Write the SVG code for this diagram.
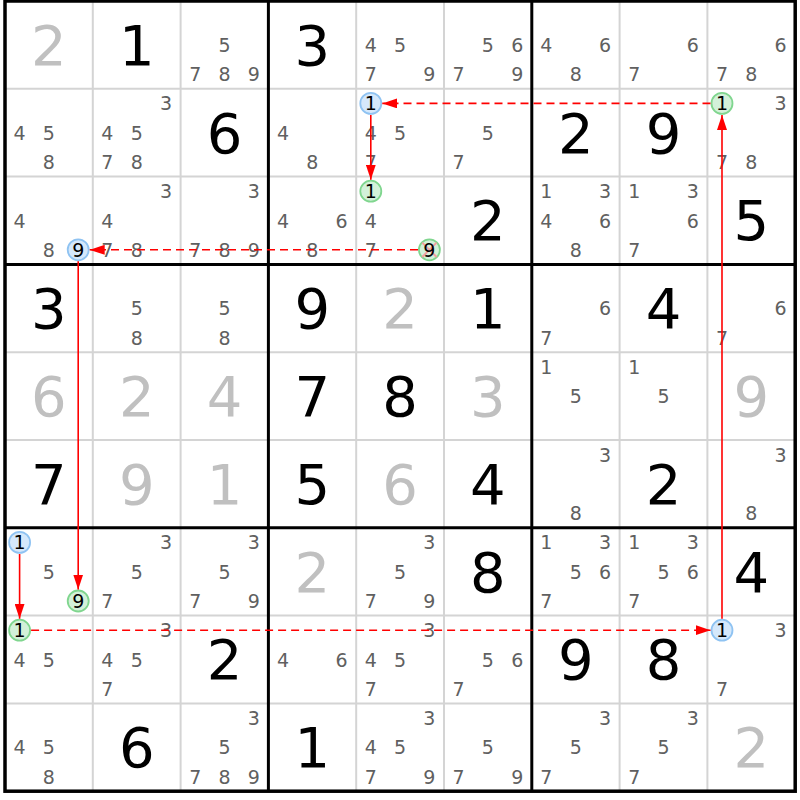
<svg xmlns="http://www.w3.org/2000/svg" width="800" height="800" viewBox="0 0 800 800">
<style>
text { font-family: "DejaVu Sans", Verdana, sans-serif; text-anchor: middle; }
.c { font-size: 19px; fill: #606060; }
.k { font-size: 19px; fill: #000000; }
.g { font-size: 56px; fill: #000000; }
.v { font-size: 56px; fill: #c0c0c0; }
.thin { stroke: #d4d4d4; stroke-width: 2; }
.thick { stroke: #000000; stroke-width: 3; }
.hb { fill: #d5e8fb; stroke: #8fc3f2; stroke-width: 1.8; }
.hg { fill: #d3f1d9; stroke: #80d68f; stroke-width: 1.8; }
.x { stroke: #f2a0a0; stroke-width: 2; }
.lk { stroke: #ff0000; stroke-width: 1.6; fill: none; marker-end: url(#ah); }
.dash { stroke-dasharray: 8 5; }
</style>
<defs>
<marker id="ah" markerWidth="15" markerHeight="10" refX="15" refY="5" orient="auto" markerUnits="userSpaceOnUse">
<path d="M0,0 L15,5 L0,10 z" fill="#ff0000"/>
</marker>
</defs>
<rect x="0" y="0" width="800" height="800" fill="#ffffff"/>
<g id="grid">
<line class="thin" x1="92.8" y1="1" x2="92.8" y2="791.2"/>
<line class="thin" x1="180.6" y1="1" x2="180.6" y2="791.2"/>
<line class="thin" x1="356.2" y1="1" x2="356.2" y2="791.2"/>
<line class="thin" x1="444" y1="1" x2="444" y2="791.2"/>
<line class="thin" x1="619.6" y1="1" x2="619.6" y2="791.2"/>
<line class="thin" x1="707.4" y1="1" x2="707.4" y2="791.2"/>
<line class="thin" x1="5" y1="88.8" x2="795.2" y2="88.8"/>
<line class="thin" x1="5" y1="176.6" x2="795.2" y2="176.6"/>
<line class="thin" x1="5" y1="352.2" x2="795.2" y2="352.2"/>
<line class="thin" x1="5" y1="440" x2="795.2" y2="440"/>
<line class="thin" x1="5" y1="615.6" x2="795.2" y2="615.6"/>
<line class="thin" x1="5" y1="703.4" x2="795.2" y2="703.4"/>
<line class="thick" x1="268.4" y1="1" x2="268.4" y2="791.2"/>
<line class="thick" x1="531.8" y1="1" x2="531.8" y2="791.2"/>
<line class="thick" x1="5" y1="264.4" x2="795.2" y2="264.4"/>
<line class="thick" x1="5" y1="527.8" x2="795.2" y2="527.8"/>
<rect x="5" y="1" width="790.2" height="790.2" fill="none" stroke="#000000" stroke-width="3.5"/>
</g>

<!-- Row 1 -->
<g id="r1c1" transform="translate(5,1)"><text class="v" x="43.9" y="63.9">2</text></g>
<g id="r1c2" transform="translate(92.8,1)"><text class="g" x="43.9" y="63.9">1</text></g>
<g id="r1c3" transform="translate(180.6,1)"><text class="c" x="43.9" y="51">5</text><text class="c" x="14.6" y="80.3">7</text><text class="c" x="43.9" y="80.3">8</text><text class="c" x="73.2" y="80.3">9</text></g>
<g id="r1c4" transform="translate(268.4,1)"><text class="g" x="43.9" y="63.9">3</text></g>
<g id="r1c5" transform="translate(356.2,1)"><text class="c" x="14.6" y="51">4</text><text class="c" x="43.9" y="51">5</text><text class="c" x="14.6" y="80.3">7</text><text class="c" x="73.2" y="80.3">9</text></g>
<g id="r1c6" transform="translate(444,1)"><text class="c" x="43.9" y="51">5</text><text class="c" x="73.2" y="51">6</text><text class="c" x="14.6" y="80.3">7</text><text class="c" x="73.2" y="80.3">9</text></g>
<g id="r1c7" transform="translate(531.8,1)"><text class="c" x="14.6" y="51">4</text><text class="c" x="73.2" y="51">6</text><text class="c" x="43.9" y="80.3">8</text></g>
<g id="r1c8" transform="translate(619.6,1)"><text class="c" x="73.2" y="51">6</text><text class="c" x="14.6" y="80.3">7</text></g>
<g id="r1c9" transform="translate(707.4,1)"><text class="c" x="73.2" y="51">6</text><text class="c" x="14.6" y="80.3">7</text><text class="c" x="43.9" y="80.3">8</text></g>

<!-- Row 2 -->
<g id="r2c1" transform="translate(5,88.8)"><text class="c" x="14.6" y="51">4</text><text class="c" x="43.9" y="51">5</text><text class="c" x="43.9" y="80.3">8</text></g>
<g id="r2c2" transform="translate(92.8,88.8)"><text class="c" x="73.2" y="21.7">3</text><text class="c" x="14.6" y="51">4</text><text class="c" x="43.9" y="51">5</text><text class="c" x="14.6" y="80.3">7</text><text class="c" x="43.9" y="80.3">8</text></g>
<g id="r2c3" transform="translate(180.6,88.8)"><text class="g" x="43.9" y="63.9">6</text></g>
<g id="r2c4" transform="translate(268.4,88.8)"><text class="c" x="14.6" y="51">4</text><text class="c" x="43.9" y="80.3">8</text></g>
<g id="r2c5" transform="translate(356.2,88.8)"><circle class="hb" cx="14.6" cy="14.6" r="10.5"/><text class="k" x="14.6" y="21.7">1</text><text class="c" x="14.6" y="51">4</text><text class="c" x="43.9" y="51">5</text><text class="c" x="14.6" y="80.3">7</text></g>
<g id="r2c6" transform="translate(444,88.8)"><text class="c" x="43.9" y="51">5</text><text class="c" x="14.6" y="80.3">7</text></g>
<g id="r2c7" transform="translate(531.8,88.8)"><text class="g" x="43.9" y="63.9">2</text></g>
<g id="r2c8" transform="translate(619.6,88.8)"><text class="g" x="43.9" y="63.9">9</text></g>
<g id="r2c9" transform="translate(707.4,88.8)"><circle class="hg" cx="14.6" cy="14.6" r="10.5"/><text class="k" x="14.6" y="21.7">1</text><text class="c" x="73.2" y="21.7">3</text><text class="c" x="14.6" y="80.3">7</text><text class="c" x="43.9" y="80.3">8</text></g>

<!-- Row 3 -->
<g id="r3c1" transform="translate(5,176.6)"><text class="c" x="14.6" y="51">4</text><text class="c" x="43.9" y="80.3">8</text><circle class="hb" cx="73.2" cy="73.2" r="10.5"/><text class="k" x="73.2" y="80.3">9</text></g>
<g id="r3c2" transform="translate(92.8,176.6)"><text class="c" x="73.2" y="21.7">3</text><text class="c" x="14.6" y="51">4</text><text class="c" x="14.6" y="80.3">7</text><text class="c" x="43.9" y="80.3">8</text></g>
<g id="r3c3" transform="translate(180.6,176.6)"><text class="c" x="73.2" y="21.7">3</text><text class="c" x="14.6" y="80.3">7</text><text class="c" x="43.9" y="80.3">8</text><text class="c" x="73.2" y="80.3">9</text></g>
<g id="r3c4" transform="translate(268.4,176.6)"><text class="c" x="14.6" y="51">4</text><text class="c" x="73.2" y="51">6</text><text class="c" x="43.9" y="80.3">8</text></g>
<g id="r3c5" transform="translate(356.2,176.6)"><circle class="hg" cx="14.6" cy="14.6" r="10.5"/><text class="k" x="14.6" y="21.7">1</text><text class="c" x="14.6" y="51">4</text><text class="c" x="14.6" y="80.3">7</text><circle class="hg" cx="73.2" cy="73.2" r="10.5"/><line class="x" x1="66" y1="66" x2="80.4" y2="80.4"/><line class="x" x1="66" y1="80.4" x2="80.4" y2="66"/><text class="k" x="73.2" y="80.3">9</text></g>
<g id="r3c6" transform="translate(444,176.6)"><text class="g" x="43.9" y="63.9">2</text></g>
<g id="r3c7" transform="translate(531.8,176.6)"><text class="c" x="14.6" y="21.7">1</text><text class="c" x="73.2" y="21.7">3</text><text class="c" x="14.6" y="51">4</text><text class="c" x="73.2" y="51">6</text><text class="c" x="43.9" y="80.3">8</text></g>
<g id="r3c8" transform="translate(619.6,176.6)"><text class="c" x="14.6" y="21.7">1</text><text class="c" x="73.2" y="21.7">3</text><text class="c" x="73.2" y="51">6</text><text class="c" x="14.6" y="80.3">7</text></g>
<g id="r3c9" transform="translate(707.4,176.6)"><text class="g" x="43.9" y="63.9">5</text></g>

<!-- Row 4 -->
<g id="r4c1" transform="translate(5,264.4)"><text class="g" x="43.9" y="63.9">3</text></g>
<g id="r4c2" transform="translate(92.8,264.4)"><text class="c" x="43.9" y="51">5</text><text class="c" x="43.9" y="80.3">8</text></g>
<g id="r4c3" transform="translate(180.6,264.4)"><text class="c" x="43.9" y="51">5</text><text class="c" x="43.9" y="80.3">8</text></g>
<g id="r4c4" transform="translate(268.4,264.4)"><text class="g" x="43.9" y="63.9">9</text></g>
<g id="r4c5" transform="translate(356.2,264.4)"><text class="v" x="43.9" y="63.9">2</text></g>
<g id="r4c6" transform="translate(444,264.4)"><text class="g" x="43.9" y="63.9">1</text></g>
<g id="r4c7" transform="translate(531.8,264.4)"><text class="c" x="73.2" y="51">6</text><text class="c" x="14.6" y="80.3">7</text></g>
<g id="r4c8" transform="translate(619.6,264.4)"><text class="g" x="43.9" y="63.9">4</text></g>
<g id="r4c9" transform="translate(707.4,264.4)"><text class="c" x="73.2" y="51">6</text><text class="c" x="14.6" y="80.3">7</text></g>

<!-- Row 5 -->
<g id="r5c1" transform="translate(5,352.2)"><text class="v" x="43.9" y="63.9">6</text></g>
<g id="r5c2" transform="translate(92.8,352.2)"><text class="v" x="43.9" y="63.9">2</text></g>
<g id="r5c3" transform="translate(180.6,352.2)"><text class="v" x="43.9" y="63.9">4</text></g>
<g id="r5c4" transform="translate(268.4,352.2)"><text class="g" x="43.9" y="63.9">7</text></g>
<g id="r5c5" transform="translate(356.2,352.2)"><text class="g" x="43.9" y="63.9">8</text></g>
<g id="r5c6" transform="translate(444,352.2)"><text class="v" x="43.9" y="63.9">3</text></g>
<g id="r5c7" transform="translate(531.8,352.2)"><text class="c" x="14.6" y="21.7">1</text><text class="c" x="43.9" y="51">5</text></g>
<g id="r5c8" transform="translate(619.6,352.2)"><text class="c" x="14.6" y="21.7">1</text><text class="c" x="43.9" y="51">5</text></g>
<g id="r5c9" transform="translate(707.4,352.2)"><text class="v" x="43.9" y="63.9">9</text></g>

<!-- Row 6 -->
<g id="r6c1" transform="translate(5,440)"><text class="g" x="43.9" y="63.9">7</text></g>
<g id="r6c2" transform="translate(92.8,440)"><text class="v" x="43.9" y="63.9">9</text></g>
<g id="r6c3" transform="translate(180.6,440)"><text class="v" x="43.9" y="63.9">1</text></g>
<g id="r6c4" transform="translate(268.4,440)"><text class="g" x="43.9" y="63.9">5</text></g>
<g id="r6c5" transform="translate(356.2,440)"><text class="v" x="43.9" y="63.9">6</text></g>
<g id="r6c6" transform="translate(444,440)"><text class="g" x="43.9" y="63.9">4</text></g>
<g id="r6c7" transform="translate(531.8,440)"><text class="c" x="73.2" y="21.7">3</text><text class="c" x="43.9" y="80.3">8</text></g>
<g id="r6c8" transform="translate(619.6,440)"><text class="g" x="43.9" y="63.9">2</text></g>
<g id="r6c9" transform="translate(707.4,440)"><text class="c" x="73.2" y="21.7">3</text><text class="c" x="43.9" y="80.3">8</text></g>

<!-- Row 7 -->
<g id="r7c1" transform="translate(5,527.8)"><circle class="hb" cx="14.6" cy="14.6" r="10.5"/><text class="k" x="14.6" y="21.7">1</text><text class="c" x="43.9" y="51">5</text><circle class="hg" cx="73.2" cy="73.2" r="10.5"/><text class="k" x="73.2" y="80.3">9</text></g>
<g id="r7c2" transform="translate(92.8,527.8)"><text class="c" x="73.2" y="21.7">3</text><text class="c" x="43.9" y="51">5</text><text class="c" x="14.6" y="80.3">7</text></g>
<g id="r7c3" transform="translate(180.6,527.8)"><text class="c" x="73.2" y="21.7">3</text><text class="c" x="43.9" y="51">5</text><text class="c" x="14.6" y="80.3">7</text><text class="c" x="73.2" y="80.3">9</text></g>
<g id="r7c4" transform="translate(268.4,527.8)"><text class="v" x="43.9" y="63.9">2</text></g>
<g id="r7c5" transform="translate(356.2,527.8)"><text class="c" x="73.2" y="21.7">3</text><text class="c" x="43.9" y="51">5</text><text class="c" x="14.6" y="80.3">7</text><text class="c" x="73.2" y="80.3">9</text></g>
<g id="r7c6" transform="translate(444,527.8)"><text class="g" x="43.9" y="63.9">8</text></g>
<g id="r7c7" transform="translate(531.8,527.8)"><text class="c" x="14.6" y="21.7">1</text><text class="c" x="73.2" y="21.7">3</text><text class="c" x="43.9" y="51">5</text><text class="c" x="73.2" y="51">6</text><text class="c" x="14.6" y="80.3">7</text></g>
<g id="r7c8" transform="translate(619.6,527.8)"><text class="c" x="14.6" y="21.7">1</text><text class="c" x="73.2" y="21.7">3</text><text class="c" x="43.9" y="51">5</text><text class="c" x="73.2" y="51">6</text><text class="c" x="14.6" y="80.3">7</text></g>
<g id="r7c9" transform="translate(707.4,527.8)"><text class="g" x="43.9" y="63.9">4</text></g>

<!-- Row 8 -->
<g id="r8c1" transform="translate(5,615.6)"><circle class="hg" cx="14.6" cy="14.6" r="10.5"/><text class="k" x="14.6" y="21.7">1</text><text class="c" x="14.6" y="51">4</text><text class="c" x="43.9" y="51">5</text></g>
<g id="r8c2" transform="translate(92.8,615.6)"><text class="c" x="73.2" y="21.7">3</text><text class="c" x="14.6" y="51">4</text><text class="c" x="43.9" y="51">5</text><text class="c" x="14.6" y="80.3">7</text></g>
<g id="r8c3" transform="translate(180.6,615.6)"><text class="g" x="43.9" y="63.9">2</text></g>
<g id="r8c4" transform="translate(268.4,615.6)"><text class="c" x="14.6" y="51">4</text><text class="c" x="73.2" y="51">6</text></g>
<g id="r8c5" transform="translate(356.2,615.6)"><text class="c" x="73.2" y="21.7">3</text><text class="c" x="14.6" y="51">4</text><text class="c" x="43.9" y="51">5</text><text class="c" x="14.6" y="80.3">7</text></g>
<g id="r8c6" transform="translate(444,615.6)"><text class="c" x="43.9" y="51">5</text><text class="c" x="73.2" y="51">6</text><text class="c" x="14.6" y="80.3">7</text></g>
<g id="r8c7" transform="translate(531.8,615.6)"><text class="g" x="43.9" y="63.9">9</text></g>
<g id="r8c8" transform="translate(619.6,615.6)"><text class="g" x="43.9" y="63.9">8</text></g>
<g id="r8c9" transform="translate(707.4,615.6)"><circle class="hb" cx="14.6" cy="14.6" r="10.5"/><text class="k" x="14.6" y="21.7">1</text><text class="c" x="73.2" y="21.7">3</text><text class="c" x="14.6" y="80.3">7</text></g>

<!-- Row 9 -->
<g id="r9c1" transform="translate(5,703.4)"><text class="c" x="14.6" y="51">4</text><text class="c" x="43.9" y="51">5</text><text class="c" x="43.9" y="80.3">8</text></g>
<g id="r9c2" transform="translate(92.8,703.4)"><text class="g" x="43.9" y="63.9">6</text></g>
<g id="r9c3" transform="translate(180.6,703.4)"><text class="c" x="73.2" y="21.7">3</text><text class="c" x="43.9" y="51">5</text><text class="c" x="14.6" y="80.3">7</text><text class="c" x="43.9" y="80.3">8</text><text class="c" x="73.2" y="80.3">9</text></g>
<g id="r9c4" transform="translate(268.4,703.4)"><text class="g" x="43.9" y="63.9">1</text></g>
<g id="r9c5" transform="translate(356.2,703.4)"><text class="c" x="73.2" y="21.7">3</text><text class="c" x="14.6" y="51">4</text><text class="c" x="43.9" y="51">5</text><text class="c" x="14.6" y="80.3">7</text><text class="c" x="73.2" y="80.3">9</text></g>
<g id="r9c6" transform="translate(444,703.4)"><text class="c" x="43.9" y="51">5</text><text class="c" x="14.6" y="80.3">7</text><text class="c" x="73.2" y="80.3">9</text></g>
<g id="r9c7" transform="translate(531.8,703.4)"><text class="c" x="73.2" y="21.7">3</text><text class="c" x="43.9" y="51">5</text><text class="c" x="14.6" y="80.3">7</text></g>
<g id="r9c8" transform="translate(619.6,703.4)"><text class="c" x="73.2" y="21.7">3</text><text class="c" x="43.9" y="51">5</text><text class="c" x="14.6" y="80.3">7</text></g>
<g id="r9c9" transform="translate(707.4,703.4)"><text class="v" x="43.9" y="63.9">2</text></g>

<g id="connectors">
<line class="lk dash" x1="710.5" y1="103.4" x2="382.3" y2="103.4"/>
<line class="lk" x1="370.8" y1="115" x2="370.8" y2="179.7"/>
<line class="lk dash" x1="418" y1="249.8" x2="89.7" y2="249.8"/>
<line class="lk" x1="78.2" y1="261.3" x2="78.2" y2="589.5"/>
<line class="lk" x1="19.6" y1="554" x2="19.6" y2="618.7"/>
<line class="lk dash" x1="31.1" y1="630.2" x2="710.5" y2="630.2"/>
<line class="lk" x1="722" y1="618.7" x2="722" y2="115"/>
</g>
</svg>
